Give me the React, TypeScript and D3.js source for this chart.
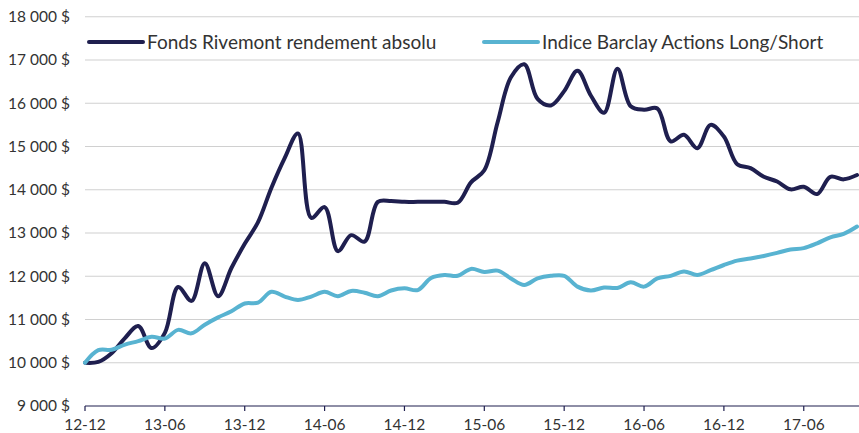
import React from 'react';
import * as d3 from 'd3';

// monthly, 12-12 through 17-10
const months = [
  '12-12',
  '13-01', '13-02', '13-03', '13-04', '13-05', '13-06', '13-07', '13-08', '13-09', '13-10', '13-11', '13-12',
  '14-01', '14-02', '14-03', '14-04', '14-05', '14-06', '14-07', '14-08', '14-09', '14-10', '14-11', '14-12',
  '15-01', '15-02', '15-03', '15-04', '15-05', '15-06', '15-07', '15-08', '15-09', '15-10', '15-11', '15-12',
  '16-01', '16-02', '16-03', '16-04', '16-05', '16-06', '16-07', '16-08', '16-09', '16-10', '16-11', '16-12',
  '17-01', '17-02', '17-03', '17-04', '17-05', '17-06', '17-07', '17-08', '17-09', '17-10',
];

const rivemont = [
  10000,
  10020, 10220, 10570, 10850, 10340, 10690, 11750, 11430, 12300, 11540, 12190, 12750,
  13250, 14040, 14730, 15300, 13350, 13600, 12580, 12950, 12800, 13720, 13740, 13720,
  13720, 13720, 13720, 13700, 14170, 14450, 15560, 16600, 16900, 16100, 15950, 16280,
  16750, 16180, 15780, 16800, 15930, 15850, 15880, 15120, 15270, 14960, 15500, 15230,
  14590, 14500, 14300, 14190, 14010, 14070, 13900, 14300, 14240, 14340,
];

const barclay = [
  10000,
  10290, 10300, 10420, 10500, 10600, 10560, 10760, 10680, 10880, 11050, 11190, 11370,
  11390, 11640, 11530, 11450, 11530, 11640, 11540, 11660, 11620, 11540, 11670, 11720,
  11680, 11960, 12030, 12010, 12170, 12100, 12130, 11950, 11800, 11950, 12010, 12010,
  11760, 11670, 11740, 11730, 11860, 11760, 11950, 12010, 12110, 12030, 12140, 12260,
  12360, 12410, 12470, 12540, 12620, 12650, 12760, 12900, 12980, 13150,
];

const tickLabels = ['12-12', '13-06', '13-12', '14-06', '14-12', '15-06', '15-12', '16-06', '16-12', '17-06'];
const yTicks = [9000, 10000, 11000, 12000, 13000, 14000, 15000, 16000, 17000, 18000];

const seriesNames = ['Fonds Rivemont rendement absolu', 'Indice Barclay Actions Long/Short'];
const seriesColors = ['#1f1f4f', '#58b3d1'];

const W = 859;
const H = 433;
const FONT = 'Lato, "Open Sans", sans-serif';

const fmt = (v: number) => d3.format(',')(v).replace(/,/g, ' ') + ' $';

export default function App() {
  const x = d3.scalePoint<string>().domain(months).range([85, 857]);
  const y = d3.scaleLinear().domain([9000, 18000]).range([406, 16.75]);

  const line = d3
    .line<number>()
    .x((_, i) => x(months[i]) as number)
    .y((d) => y(d))
    .curve(d3.curveCatmullRom.alpha(0.5));

  const series = [rivemont, barclay];

  return (
    <svg width={W} height={H} style={{ position: 'absolute', left: 0, top: 0, background: '#fff' }} fontFamily={FONT}>
      {/* grid + y labels */}
      {yTicks.map((t) => (
        <g key={t}>
          {t > 9000 && (
            <line x1={85} x2={W} y1={y(t)} y2={y(t)} stroke="#d0d0d0" strokeWidth={1.2} />
          )}
          <text x={70} y={y(t)} dy="0.35em" textAnchor="end" fontSize={15.5} fill="#333">
            {fmt(t)}
          </text>
        </g>
      ))}

      {/* x axis */}
      <line x1={85} x2={W} y1={406} y2={406} stroke="#1f1f4f" strokeWidth={1.2} />
      {tickLabels.map((m) => (
        <g key={m} transform={`translate(${x(m)},406)`}>
          <line y2={5} stroke="#1f1f4f" strokeWidth={1.2} />
          <text y={19} dy="0.35em" textAnchor="middle" fontSize={15.5} fill="#333">
            {m}
          </text>
        </g>
      ))}

      {/* lines */}
      {series.map((s, i) => (
        <path key={i} d={line(s) ?? ''} fill="none" stroke={seriesColors[i]} strokeWidth={4} strokeLinejoin="round" strokeLinecap="round" />
      ))}

      {/* legend */}
      {seriesNames.map((name, i) => {
        const lx = i === 0 ? 89 : 484;
        return (
          <g key={name} transform={`translate(${lx},42)`}>
            <line x1={0} x2={54} stroke={seriesColors[i]} strokeWidth={4} strokeLinecap="round" />
            <text x={58} dy="0.35em" fontSize={19} fill="#333">
              {name}
            </text>
          </g>
        );
      })}
    </svg>
  );
}
